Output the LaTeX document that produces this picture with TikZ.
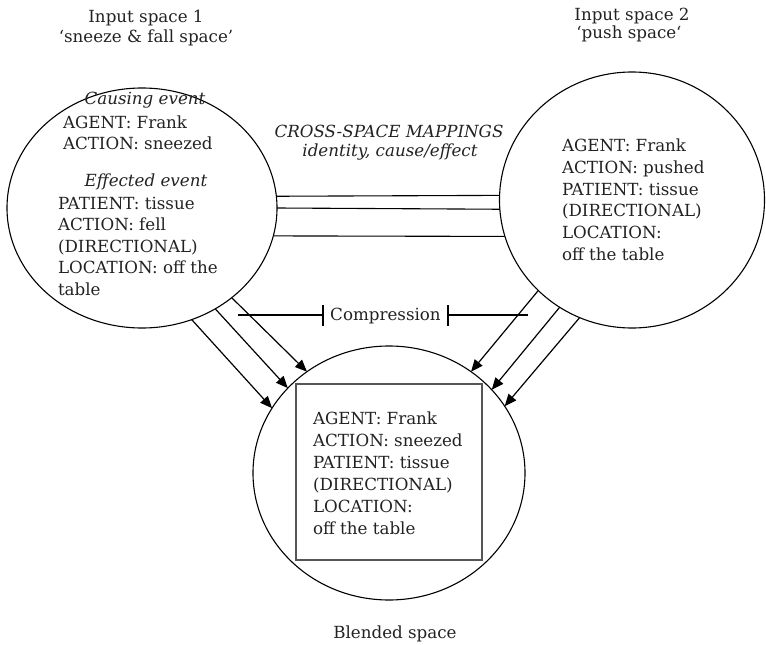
\documentclass[tikz,border=0pt]{standalone}
\usepackage{fontspec}
\setmainfont{DejaVu Serif}
\usetikzlibrary{shapes.geometric,arrows.meta}
\definecolor{ink}{HTML}{222222}
\definecolor{boxc}{HTML}{555555}
\newcommand{\fs}{\fontsize{16.7}{20}\selectfont}
\begin{document}
\begin{tikzpicture}[x=1pt,y=-1pt,
  every node/.style={inner sep=0pt, outer sep=0pt, text=ink},
  ln/.style={anchor=base west, font=\fs},
  ctr/.style={anchor=base, font=\fs},
  spacec/.style={ellipse, draw=black, line width=1.1pt, inner sep=0pt, outer sep=0pt},
  map/.style={line width=1.1pt},
  arr/.style={line width=1.2pt, -{Triangle[length=12pt,width=10pt]}},
  comp/.style={line width=2pt, -{Bar[width=21pt]}},
]
\useasboundingbox (0,0) rectangle (766,645);

% spaces
\node[spacec, minimum width=270pt, minimum height=240pt] (L) at (142,208) {};
\node[spacec, minimum width=265pt, minimum height=256pt] (R) at (632,200) {};
\node[spacec, minimum width=272pt, minimum height=254pt] (B) at (389,473) {};
\node[draw=boxc, line width=1.4pt, minimum width=186pt, minimum height=176pt] (box) at (389,472) {};

% titles
\node[ctr] (t1a) at (146,23) {Input space 1};
\node[ctr] (t1b) at (146,42) {‘sneeze \& fall space’};
\node[ctr] (t2a) at (632,20) {Input space 2};
\node[ctr] (t2b) at (629,38.5) {‘push space‘};
\node[ctr] (t3) at (395,638) {Blended space};

% left content
\node[ctr, font=\fs\itshape] (l0) at (145,104) {Causing event};
\node[ln] (l1) at (63,128) {AGENT: Frank};
\node[ln] (l2) at (63,149.5) {ACTION: sneezed};
\node[ctr, font=\fs\itshape] (l3) at (146,186) {Effected event};
\node[ln] (l4) at (58,209) {PATIENT: tissue};
\node[ln] (l5) at (58,230.5) {ACTION: fell};
\node[ln] (l6) at (58,252) {(DIRECTIONAL)};
\node[ln] (l7) at (58,273.5) {LOCATION: off the};
\node[ln] (l8) at (58,295) {table};

% right content
\node[ln] (r1) at (562,151.7) {AGENT: Frank};
\node[ln] (r2) at (562,173.3) {ACTION: pushed};
\node[ln] (r3) at (562,195) {PATIENT: tissue};
\node[ln] (r4) at (562,216.7) {(DIRECTIONAL)};
\node[ln] (r5) at (562,238.3) {LOCATION:};
\node[ln] (r6) at (562,260) {off the table};

% blended content
\node[ln] (b1) at (313,424) {AGENT: Frank};
\node[ln] (b2) at (313,446) {ACTION: sneezed};
\node[ln] (b3) at (313,468) {PATIENT: tissue};
\node[ln] (b4) at (313,490) {(DIRECTIONAL)};
\node[ln] (b5) at (313,512) {LOCATION:};
\node[ln] (b6) at (313,534) {off the table};

% cross-space mappings
\node[ctr, font=\fs\itshape] (cs1) at (389,137.7) {CROSS-SPACE MAPPINGS};
\node[ctr, font=\fs\itshape] (cs2) at (390,156.7) {identity, cause/effect};
\draw[map] (L.5.1) -- (R.178.3);
\draw[map] (L.-0.85) -- (R.184.3);
\draw[map] (L.-12.9) -- (R.196.7);

% compression
\node[ctr, inner xsep=6pt] (C) at (385.5,320) {Compression};
\coordinate (cl) at (238,315);
\coordinate (cr) at (528,315);
\draw[comp] (cl) -- (cl -| C.west);
\draw[comp] (cr) -- (cr -| C.east);

% projections
\draw[arr] (L.-45.7) -- (B.129.7);
\draw[arr] (L.-54.2) -- (B.140);
\draw[arr] (L.-66.2) -- (B.151);
\draw[arr] (R.224.1) -- (B.51.7);
\draw[arr] (R.236.1) -- (B.39.9);
\draw[arr] (R.246.2) -- (B.30.7);
\end{tikzpicture}
\end{document}
